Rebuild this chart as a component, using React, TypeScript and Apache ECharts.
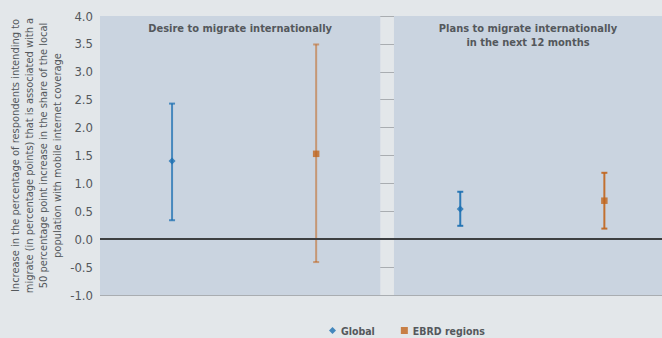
import React, { useEffect, useRef } from "react";
import * as echarts from "echarts";

const panelTitles = [
  "Desire to migrate internationally",
  "Plans to migrate internationally\nin the next 12 months",
];
const seriesNames = ["Global", "EBRD regions"];
const globalValues = [1.4, 0.54];
const globalLow = [0.34, 0.24];
const globalHigh = [2.43, 0.85];
const ebrdValues = [1.53, 0.69];
const ebrdLow = [-0.41, 0.19];
const ebrdHigh = [3.49, 1.19];

const FONT = "'Liberation Sans Narrow', 'DejaVu Sans Condensed', sans-serif";
const TEXT = "#54585c";
const BLUE = "#1b6fb1";
const ORANGE = "#c1651d";

export default function App() {
  const ref = useRef<HTMLDivElement>(null);
  useEffect(() => {
    const chart = echarts.init(ref.current!, null, { renderer: "svg" });
    const xPos = (panel: number, s: number) => panel * 4 + s * 2 + 1;
    const mk = (vals: number[], lo: number[], hi: number[], s: number) =>
      vals.map((v, i) => [xPos(i, s), lo[i], hi[i], v]);
    const errData = [
      mk(globalValues, globalLow, globalHigh, 0),
      mk(ebrdValues, ebrdLow, ebrdHigh, 1),
    ];
    const colors = [BLUE, ORANGE];
    const errSeries = errData.map((d, s) => ({
      type: "custom",
      name: seriesNames[s] + " range",
      z: 3,
      data: d,
      encode: { x: 0, y: [1, 2] },
      renderItem: (params: any, api: any) => {
        const x = api.value(0);
        const lo = api.coord([x, api.value(1)]);
        const hi = api.coord([x, api.value(2)]);
        const style = {
          stroke: colors[s],
          lineWidth: 2,
          opacity: params.dataIndex === 0 ? (s === 1 ? 0.55 : 0.75) : 0.9,
        };
        const w = 3;
        return {
          type: "group",
          children: [
            { type: "line", shape: { x1: lo[0], y1: lo[1], x2: hi[0], y2: hi[1] }, style },
            { type: "line", shape: { x1: lo[0] - w, y1: lo[1], x2: lo[0] + w, y2: lo[1] }, style },
            { type: "line", shape: { x1: hi[0] - w, y1: hi[1], x2: hi[0] + w, y2: hi[1] }, style },
          ],
        };
      },
    }));
    const pointSeries = [
      {
        type: "scatter",
        name: seriesNames[0],
        symbol: "diamond",
        symbolSize: 7,
        itemStyle: { color: BLUE },
        z: 4,
        data: globalValues.map((v, i) => [xPos(i, 0), v]),
      },
      {
        type: "scatter",
        name: seriesNames[1],
        symbol: "rect",
        symbolSize: 6.5,
        itemStyle: { color: ORANGE },
        z: 4,
        data: ebrdValues.map((v, i) => [xPos(i, 1), v]),
      },
    ];
    chart.setOption({
      animation: false,
      backgroundColor: "#e3e7ea",
      grid: { left: 100, right: 0, top: 16, bottom: 43, outerBoundsMode: "none" },
      xAxis: {
        type: "value",
        min: 0,
        max: 7.8,
        show: false,
      },
      yAxis: {
        type: "value",
        min: -1,
        max: 4,
        interval: 0.5,
        z: 1,
        axisLine: { show: false },
        axisTick: { show: false },
        axisLabel: {
          color: TEXT,
          fontFamily: FONT,
          fontSize: 13,
          margin: 7,
          formatter: (v: number) => v.toFixed(1),
        },
        splitLine: { lineStyle: { color: "#a9adb1", width: 1.2 } },
        name:
          "Increase in the percentage of respondents intending to\nmigrate (in percentage points) that is associated with a\n50 percentage point increase in the share of the local\npopulation with mobile internet coverage",
        nameLocation: "middle",
        nameRotate: 90,
        nameGap: 36,
        nameMoveOverlap: false,
        nameTextStyle: {
          color: TEXT,
          fontFamily: FONT,
          fontSize: 11,
          lineHeight: 14,
        },
      },
      legend: {
        data: seriesNames,
        bottom: 2,
        left: 329,
        padding: 0,
        itemGap: 26,
        itemWidth: 7,
        itemHeight: 7,
        textStyle: { color: TEXT, fontFamily: FONT, fontSize: 10.5, fontWeight: "bold" },
      },
      series: [
        {
          type: "line",
          name: "panels",
          z: 0,
          data: [],
          markArea: {
            silent: true,
            itemStyle: { color: "#cad4e0" },
            label: {
              position: "insideTop",
              distance: 5,
              color: TEXT,
              fontFamily: FONT,
              fontSize: 11,
              fontWeight: "bold",
              lineHeight: 14,
            },
            data: [
              [{ name: panelTitles[0], xAxis: 0, yAxis: -1 }, { xAxis: 3.89, yAxis: 4 }],
              [{ name: panelTitles[1], xAxis: 4.08, yAxis: -1 }, { xAxis: 7.8, yAxis: 4 }],
            ],
          },
          markLine: {
            silent: true,
            symbol: "none",
            label: { show: false },
            lineStyle: { color: "#3d3f41", width: 2, type: "solid" },
            data: [{ yAxis: 0 }],
          },
        },
        ...errSeries,
        ...pointSeries,
      ],
    });
    return () => chart.dispose();
  }, []);
  return <div ref={ref} style={{ width: 662, height: 338, position: "absolute", left: 0, top: 0 }} />;
}
